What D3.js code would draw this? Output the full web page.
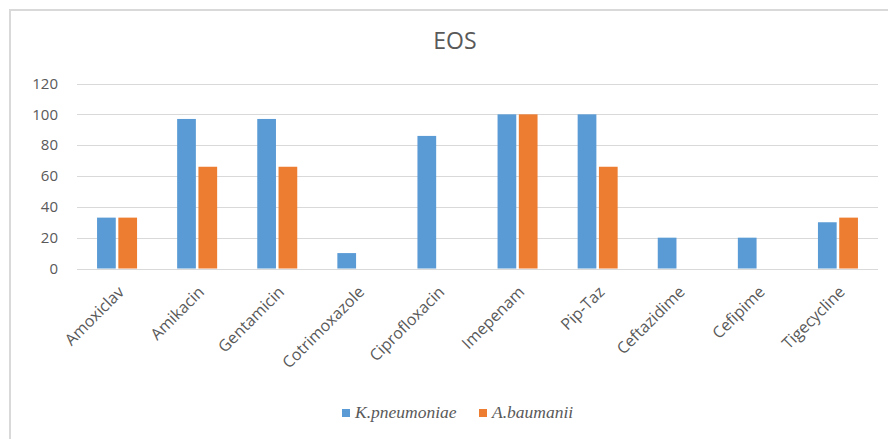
<!DOCTYPE html>
<html>
<head>
<meta charset="utf-8">
<script src="https://cdn.jsdelivr.net/npm/d3@7/dist/d3.min.js"></script>
<style>
  body { margin: 0; background: #fff; }
  svg { display: block; }
</style>
</head>
<body>
<svg id="chart" width="888" height="439"></svg>
<script>
// chart data
var drugs = ["Amoxiclav", "Amikacin", "Gentamicin", "Cotrimoxazole", "Ciprofloxacin",
             "Imepenam", "Pip-Taz", "Ceftazidime", "Cefipime", "Tigecycline"];
var seriesNames = ["K.pneumoniae", "A.baumanii"];
var kpneumoniae = [33, 97, 97, 10, 86, 100, 100, 20, 20, 30];
var abaumanii = [33, 66, 66, 0, 0, 100, 66, 0, 0, 33];
var yTicks = [0, 20, 40, 60, 80, 100, 120];

var colors = ["#5b9bd5", "#ed7d31"];
var svg = d3.select("#chart");

// frame (only top and left edges show in the picture)
svg.append("line").attr("x1", 10).attr("x2", 888).attr("y1", 10).attr("y2", 10)
    .attr("stroke", "#d9d9d9").attr("stroke-width", 2);
svg.append("line").attr("x1", 10).attr("x2", 10).attr("y1", 9).attr("y2", 439)
    .attr("stroke", "#d9d9d9").attr("stroke-width", 2);

var x = d3.scaleBand().domain(drugs).range([77, 878]);
var x1 = d3.scaleBand().domain(seriesNames).range([x.bandwidth() / 2 - 20, x.bandwidth() / 2 + 20]).paddingInner(0.12);
var y = d3.scaleLinear().domain([0, 120]).range([268.5, 83.5]);

// gridlines
svg.append("g").selectAll("line").data(yTicks).enter().append("line")
    .attr("x1", 77).attr("x2", 878)
    .attr("y1", function (d) { return Math.round(y(d)) + 0.5; })
    .attr("y2", function (d) { return Math.round(y(d)) + 0.5; })
    .attr("stroke", "#d9d9d9").attr("stroke-width", 1);

// y tick labels
var yAxis = d3.axisLeft(y).tickValues(yTicks).tickSize(0).tickPadding(0);
var gy = svg.append("g").attr("transform", "translate(58,0)").call(yAxis);
gy.select(".domain").remove();
gy.selectAll("text")
    .style("font-family", "'Open Sans', sans-serif")
    .style("font-size", "15px")
    .attr("fill", "#595959");

// bars
var rows = drugs.map(function (d, i) {
  return { name: d, vals: [kpneumoniae[i], abaumanii[i]] };
});
var groups = svg.append("g").selectAll("g").data(rows).enter().append("g")
    .attr("transform", function (d) { return "translate(" + x(d.name) + ",0)"; });
groups.selectAll("rect")
    .data(function (d) { return d.vals.map(function (v, j) { return { s: seriesNames[j], v: v, j: j }; }); })
    .enter().append("rect")
    .filter(function (d) { return d.v > 0; })
    .attr("x", function (d) { return x1(d.s); })
    .attr("width", x1.bandwidth())
    .attr("y", function (d) { return y(d.v); })
    .attr("height", function (d) { return y(0) - y(d.v); })
    .attr("fill", function (d) { return colors[d.j]; });

// x labels, rotated
svg.append("g").selectAll("text").data(drugs).enter().append("text")
    .attr("transform", function (d) {
      return "translate(" + (x(d) + x.bandwidth() / 2 + 8) + ",293) rotate(-45)";
    })
    .attr("text-anchor", "end")
    .style("font-family", "'Open Sans', sans-serif")
    .style("font-size", "16px")
    .attr("fill", "#595959")
    .text(function (d) { return d; });

// title
svg.append("text").attr("x", 455).attr("y", 49)
    .attr("text-anchor", "middle")
    .style("font-family", "'Open Sans', sans-serif")
    .style("font-size", "23px")
    .attr("fill", "#595959")
    .text("EOS");

// legend
var legendX = [342, 479];
var lg = svg.append("g").selectAll("g").data(seriesNames).enter().append("g")
    .attr("transform", function (d, i) { return "translate(" + legendX[i] + ",0)"; });
lg.append("rect").attr("x", 0).attr("y", 409).attr("width", 8).attr("height", 8)
    .attr("fill", function (d, i) { return colors[i]; });
lg.append("text").attr("x", 13).attr("y", 418)
    .style("font-family", "'Liberation Serif', 'Times New Roman', serif")
    .style("font-style", "italic")
    .style("font-size", "17.5px")
    .attr("fill", "#595959")
    .text(function (d) { return d; });
</script>
</body>
</html>
